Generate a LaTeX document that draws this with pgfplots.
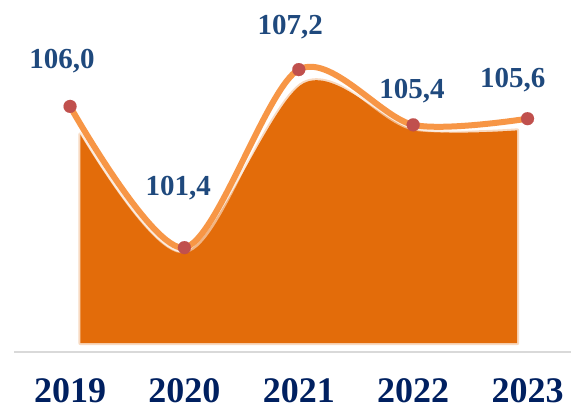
\documentclass[border=0pt]{standalone}
\usepackage{pgfplots}
\pgfplotsset{compat=1.18}
\usepackage{fontspec}
\setmainfont{Liberation Serif}
\definecolor{areaor}{HTML}{E36C0A}
\definecolor{lineor}{HTML}{F79646}
\definecolor{mk}{HTML}{C0504D}
\definecolor{lblue}{HTML}{1F497D}
\definecolor{navy}{HTML}{002060}
\definecolor{gridc}{HTML}{D9D9D9}
\begin{document}
\begin{tikzpicture}
\begin{axis}[name=ax,
  scale only axis, width=557pt, height=307pt,
  xmin=-0.49, xmax=4.38, ymin=98, ymax=108,
  clip=false,
  axis x line*=bottom, axis y line=none,
  x axis line style={draw=gridc, line width=1.5pt, -},
  ytick={98,99,...,108}, yticklabels={},
  ymajorgrids, major grid style={draw=gridc, line width=1.5pt},
  xtick={0,1,2,3,4},
  xticklabels={2019,2020,2021,2022,2023},
  major tick length=0pt,
  xticklabel style={font=\fontsize{36}{38}\selectfont\bfseries, text=navy, anchor=base, yshift=-50pt},
]
% area (shadowed)
\addplot[draw=areaor, draw opacity=0.25, line width=4pt, fill=areaor, smooth, line join=round]
  coordinates {(0.09,105.1) (1,101.25) (2.04,106.75) (3,105.25) (3.91,105.22)}
  -- (axis cs:3.91,98.29) -- (axis cs:0.09,98.29) -- cycle;
% glow
\addplot[draw=white, opacity=0.5, line width=11pt, smooth, no marks]
  coordinates {(0,106.0) (1,101.4) (2,107.2) (3,105.4) (4,105.6)};
\addplot[draw=lineor, line width=6pt, smooth, no marks]
  coordinates {(0,106.0) (1,101.4) (2,107.2) (3,105.4) (4,105.6)};
\addplot[color=mk, only marks, mark=*, mark size=6.5pt, mark options={draw=mk, fill=mk, line width=0.1pt}]
  coordinates {(0,106.0) (1,101.4) (2,107.2) (3,105.4) (4,105.6)};
\begin{scope}[every node/.style={anchor=base, text=lblue, font=\fontsize{29}{31}\selectfont\bfseries}]
\node at (axis cs:-0.07,107.25) {106,0};
\node at (axis cs:0.945,103.11) {101,4};
\node at (axis cs:1.925,108.33) {107,2};
\node at (axis cs:2.99,106.27) {105,4};
\node at (axis cs:3.87,106.6) {105,6};
\end{scope}
\end{axis}
\pgfresetboundingbox
\path ([xshift=-14pt,yshift=-58pt]ax.south west) rectangle ([yshift=45pt]ax.north east);
\end{tikzpicture}
\end{document}
